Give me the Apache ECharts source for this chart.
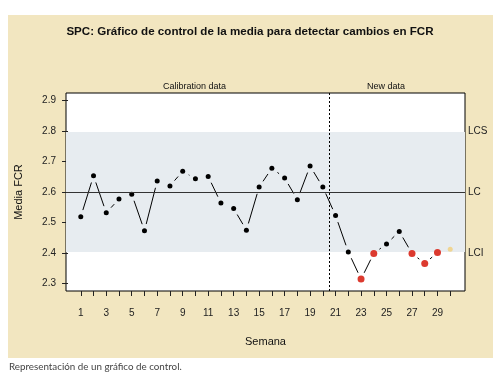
<!DOCTYPE html>
<html>
<head>
<meta charset="utf-8">
<script src="https://cdn.jsdelivr.net/npm/echarts@6/dist/echarts.min.js"></script>
<style>
html,body{margin:0;padding:0;background:#fff;}
#panel{position:absolute;left:8px;top:15px;width:485px;height:343px;background:#f2e6c0;}
#chart{position:absolute;left:0;top:0;width:500px;height:385px;}
</style>
</head>
<body>
<div id="panel"></div>
<div id="chart"></div>
<script>
// Data
const weeks = [1,2,3,4,5,6,7,8,9,10,11,12,13,14,15,16,17,18,19,20,21,22,23,24,25,26,27,28,29,30];
const fcr = [2.519,2.653,2.532,2.577,2.593,2.473,2.636,2.620,2.668,2.643,
             2.651,2.564,2.546,2.475,2.616,2.678,2.646,2.575,2.685,2.616,
             2.523,2.404,2.315,2.399,2.430,2.471,2.399,2.366,2.402,2.413];
const violations = [23,24,27,28,29];   // weeks flagged out of control
const pending = [30];                  // last week, not connected
const LC = 2.6, LCS = 2.796, LCI = 2.404;
const splitWeek = 20.5;
const yTicks = [2.3,2.4,2.5,2.6,2.7,2.8,2.9];
const xTicks = weeks;
const xLabels = [1,3,5,7,9,11,13,15,17,19,21,23,25,27,29];

const chart = echarts.init(document.getElementById('chart'), null, {renderer:'canvas'});

const segData = [];
for (let i = 0; i < weeks.length - 1; i++) {
  if (pending.indexOf(weeks[i+1]) >= 0) continue;
  segData.push([weeks[i], fcr[i], weeks[i+1], fcr[i+1]]);
}
const normalPts = [], redPts = [], pendPts = [];
weeks.forEach((w, i) => {
  if (violations.indexOf(w) >= 0) redPts.push([w, fcr[i]]);
  else if (pending.indexOf(w) >= 0) pendPts.push([w, fcr[i]]);
  else normalPts.push([w, fcr[i]]);
});

const GAP = 7;
const font = 'Liberation Sans, Arial, sans-serif';

chart.setOption({
  animation: false,
  backgroundColor: 'transparent',
  title: [
    {text: 'SPC: Gráfico de control de la media para detectar cambios en FCR',
     left: 'center', top: 21,
     textStyle: {fontFamily: font, fontSize: 11.6, fontWeight: 'bold', color: '#111'}},
    {text: 'Representación de un gráfico de control.', left: 4, top: 357,
     textStyle: {fontFamily: 'Lato, Open Sans, sans-serif', fontSize: 9.8, fontWeight: 'normal', color: '#444'}}
  ],
  grid: {left: 66, right: 35, top: 93, bottom: 94, show: true, borderColor: '#000', borderWidth: 1, backgroundColor: '#fff'},
  xAxis: {
    type: 'value', min: -0.16, max: 31.16,
    name: 'Semana', nameLocation: 'middle', nameGap: 45,
    nameTextStyle: {fontFamily: font, fontSize: 11, color: '#111'},
    axisLine: {show: false},
    splitLine: {show: false},
    axisTick: {show: true, length: 5, customValues: xTicks, lineStyle: {color: '#222'}},
    axisLabel: {customValues: xLabels, margin: 17, fontFamily: font, fontSize: 10, color: '#222'}
  },
  yAxis: {
    type: 'value', min: 2.276, max: 2.924,
    name: 'Media FCR', nameLocation: 'middle', nameGap: 42, nameRotate: 90,
    nameTextStyle: {fontFamily: font, fontSize: 11, color: '#111'},
    axisLine: {show: false},
    splitLine: {show: false},
    axisTick: {show: true, length: 6, customValues: yTicks, lineStyle: {color: '#222'}},
    axisLabel: {customValues: yTicks, margin: 10, fontFamily: font, fontSize: 10, color: '#222',
                formatter: v => v.toFixed(1)}
  },
  graphic: [
    {type: 'text', left: 163, top: 82, style: {text: 'Calibration data', font: '9px ' + font, fill: '#111'}},
    {type: 'text', left: 367, top: 82, style: {text: 'New data', font: '9px ' + font, fill: '#111'}}
  ],
  series: [
    {
      type: 'scatter', data: [], z: 1, silent: true,
      markArea: {silent: true, itemStyle: {color: '#e7ecf0'}, data: [[{yAxis: LCI}, {yAxis: LCS}]]},
      markLine: {
        silent: true, symbol: 'none',
        data: [
          {yAxis: LC, lineStyle: {color: '#333', width: 1, type: 'solid'},
           label: {show: true, position: 'end', formatter: 'LC', distance: 3, fontFamily: font, fontSize: 10, color: '#222'}},
          {yAxis: LCS, lineStyle: {color: 'transparent', width: 0},
           label: {show: true, position: 'end', formatter: 'LCS', distance: 3, fontFamily: font, fontSize: 10, color: '#222'}},
          {yAxis: LCI, lineStyle: {color: 'transparent', width: 0},
           label: {show: true, position: 'end', formatter: 'LCI', distance: 3, fontFamily: font, fontSize: 10, color: '#222'}},
          {xAxis: splitWeek, lineStyle: {color: '#000', width: 1, type: [2, 2]}, label: {show: false}}
        ]
      }
    },
    {
      type: 'custom', z: 3, silent: true, data: segData,
      encode: {x: [0, 2], y: [1, 3]},
      renderItem: function (params, api) {
        const p1 = api.coord([api.value(0), api.value(1)]);
        const p2 = api.coord([api.value(2), api.value(3)]);
        const dx = p2[0] - p1[0], dy = p2[1] - p1[1];
        const len = Math.sqrt(dx*dx + dy*dy);
        if (len <= 2 * GAP + 0.5) return null;
        const ux = dx / len, uy = dy / len;
        return {type: 'line',
          shape: {x1: p1[0] + ux*GAP, y1: p1[1] + uy*GAP, x2: p2[0] - ux*GAP, y2: p2[1] - uy*GAP},
          style: {stroke: '#000', lineWidth: 1}};
      }
    },
    {type: 'scatter', z: 4, silent: true, data: normalPts, symbolSize: 5, itemStyle: {color: '#000', opacity: 1}},
    {type: 'scatter', z: 4, silent: true, data: redPts, symbolSize: 7, itemStyle: {color: '#dc3a2f', opacity: 1}},
    {type: 'scatter', z: 4, silent: true, data: pendPts, symbolSize: 5, itemStyle: {color: '#f0d592', opacity: 1}}
  ]
});
</script>
</body>
</html>
